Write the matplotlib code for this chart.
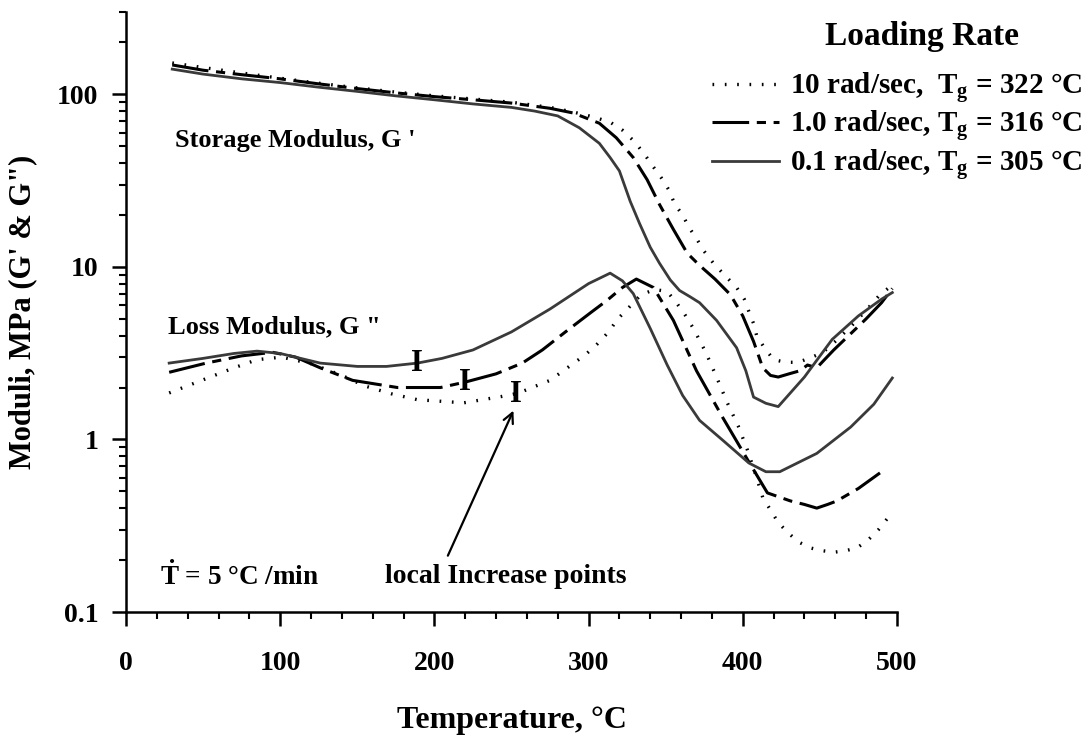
import numpy as np
import matplotlib
matplotlib.use("Agg")
import matplotlib.pyplot as plt
from matplotlib.lines import Line2D
from matplotlib.ticker import LogLocator, MultipleLocator, FixedLocator, FixedFormatter, NullFormatter

plt.rcParams['font.family'] = ['Liberation Serif', 'DejaVu Serif']
plt.rcParams['font.weight'] = 'bold'
plt.rcParams['mathtext.fontset'] = 'custom'
plt.rcParams['mathtext.rm'] = 'Liberation Serif:bold'
plt.rcParams['mathtext.bf'] = 'Liberation Serif:bold'

# storage modulus G' (MPa)
t_gp_10 = [30, 50, 75, 100, 125, 150, 175, 200, 225, 250, 275, 290, 303, 314, 322, 330, 337, 342,
           347, 352, 356, 361, 365, 370, 375, 381, 388, 396, 401, 404, 407, 409, 414, 420, 428,
           436, 445, 452, 460, 470, 480, 489, 495]
gp_10 = [152, 143, 133, 124, 116, 109, 103, 98, 94, 90, 84, 79, 74, 69, 62, 53, 44, 38,
         33, 28, 23, 20, 17, 14.6, 12.3, 10.5, 9.0, 7.6, 6.5, 5.5, 4.7, 4.0, 3.4, 2.9, 2.8,
         2.8, 3.0, 3.2, 3.7, 4.5, 5.6, 6.9, 7.6]

t_gp_1 = [30, 50, 75, 100, 125, 150, 175, 200, 225, 250, 275, 290, 307, 318, 329, 338, 346, 355,
          364, 372, 382, 392, 400, 407, 413, 418, 423, 430, 437, 442, 448, 453, 459, 470, 480,
          490, 497]
gp_1 = [148, 138, 130, 123, 115, 108, 102, 97, 93, 89, 83, 78, 68, 56, 43, 32, 23, 16.5,
        12, 10.2, 8.5, 6.9, 5.2, 3.7, 2.6, 2.35, 2.3, 2.4, 2.5, 2.7, 2.6, 2.9, 3.3, 4.1, 5.0,
        6.2, 7.5]

t_gp_01 = [30, 50, 75, 100, 125, 150, 175, 200, 225, 250, 265, 280, 294, 307, 314, 320, 327, 333,
           340, 346, 353, 359, 366, 372, 383, 396, 402, 407, 415, 423, 440, 458, 475, 490, 497]
gp_01 = [140, 131, 123, 117, 110, 104, 98, 93, 88, 84, 80, 75, 64, 52, 43, 36, 24, 17.9,
         13, 10.5, 8.4, 7.3, 6.7, 6.2, 4.9, 3.4, 2.5, 1.76, 1.62, 1.55, 2.3, 3.8, 5.2, 6.5, 7.1]

# loss modulus G'' (MPa)
t_gpp_10 = [28, 53, 70, 85, 101, 120, 140, 155, 172, 189, 219, 243, 254, 275, 298, 306, 313, 319,
            326, 334, 343, 351, 357, 363, 368, 376, 383, 390, 397, 403, 408, 413, 418, 423, 429,
            436, 444, 451, 459, 466, 474, 481, 488, 494]
gpp_10 = [1.86, 2.27, 2.6, 2.9, 3.0, 2.75, 2.35, 2.04, 1.84, 1.7, 1.63, 1.77, 1.85, 2.2, 3.1, 3.6,
          4.2, 5.0, 5.8, 6.9, 7.4, 7.2, 6.2, 5.2, 4.4, 3.2, 2.3, 1.63, 1.2, 0.87, 0.64, 0.46, 0.39,
          0.33, 0.29, 0.255, 0.235, 0.227, 0.222, 0.226, 0.235, 0.26, 0.30, 0.35]

t_gpp_1 = [28, 52, 75, 95, 110, 126, 147, 176, 204, 220, 240, 257, 270, 285, 301, 312, 322, 331,
           342, 355, 370, 387, 404, 416, 431, 440, 448, 455, 461, 475, 489]
gpp_1 = [2.45, 2.77, 3.05, 3.2, 3.0, 2.6, 2.2, 2.0, 2.0, 2.15, 2.4, 2.77, 3.3, 4.2, 5.4, 6.4, 7.6,
         8.5, 7.6, 4.9, 2.5, 1.34, 0.74, 0.49, 0.44, 0.42, 0.40, 0.42, 0.44, 0.52, 0.64]

t_gpp_01 = [28, 50, 70, 85, 100, 126, 150, 169, 189, 205, 225, 250, 275, 300, 314, 322, 329, 340,
            351, 361, 372, 387, 404, 415, 424, 448, 470, 485, 497]
gpp_01 = [2.77, 2.95, 3.15, 3.25, 3.15, 2.77, 2.65, 2.65, 2.77, 2.95, 3.3, 4.2, 5.7, 8.0, 9.2, 8.3,
          7.0, 4.4, 2.7, 1.8, 1.29, 0.99, 0.73, 0.65, 0.65, 0.83, 1.18, 1.6, 2.27]

# local increase points on G''
t_incr = [189, 220, 253]
v_incr = [2.77, 2.15, 1.81]

labels = ["10 rad/sec,  T$_\\mathrm{g}$ = 322 \u00b0C",
          "1.0 rad/sec, T$_\\mathrm{g}$ = 316 \u00b0C",
          "0.1 rad/sec, T$_\\mathrm{g}$ = 305 \u00b0C"]

dot_style = dict(color='black', lw=2.4, linestyle=(0, (0.5, 3.2)), dash_capstyle='butt')
dash_style = dict(color='black', lw=2.2, linestyle=(0, (12, 2.5, 3, 2.5)))
solid_style = dict(color='#3a3a3a', lw=2.0, linestyle='-')

fig = plt.figure(figsize=(10.88, 7.37), dpi=100)
ax = fig.add_axes([0.1158, 0.1696, 0.7086, 0.8141])

ax.plot(t_gp_10, gp_10, **dot_style)
ax.plot(t_gp_1, gp_1, **dash_style)
ax.plot(t_gp_01, gp_01, **solid_style)
ax.plot(t_gpp_10, gpp_10, **dot_style)
ax.plot(t_gpp_1, gpp_1, **dash_style)
ax.plot(t_gpp_01, gpp_01, **solid_style)

for t, v in zip(t_incr, v_incr):
    ax.text(t, v, "I", fontsize=22, ha='center', va='center', fontweight='bold')

ax.set_yscale('log')
ax.set_xlim(0, 500)
ax.set_ylim(0.1, 300)

ax.xaxis.set_major_locator(MultipleLocator(100))
ax.xaxis.set_minor_locator(MultipleLocator(20))
ax.yaxis.set_major_locator(FixedLocator([0.1, 1, 10, 100]))
ax.yaxis.set_major_formatter(FixedFormatter(["0.1", "1", "10", "100"]))
ax.yaxis.set_minor_locator(LogLocator(base=10, subs=np.arange(2, 10)))
ax.yaxis.set_minor_formatter(NullFormatter())

for s in ['top', 'right']:
    ax.spines[s].set_visible(False)
for s in ['left', 'bottom']:
    ax.spines[s].set_linewidth(1.8)

ax.tick_params(which='major', length=10, width=1.8, labelsize=20, pad=10)
ax.tick_params(which='minor', length=5, width=1.5)
ax.tick_params(axis='x', which='major', pad=18)

ax.set_xlabel("Temperature, \u00b0C", fontsize=23, fontweight='bold', labelpad=22)
ax.set_ylabel("Moduli, MPa (G' & G\")", fontsize=22, fontweight='bold', labelpad=14)

ax.text(32, 54, "Storage Modulus, G '", fontsize=19, va='center')
ax.text(27, 4.5, "Loss Modulus, G \"", fontsize=19, va='center')
ax.text(22, 0.16, "$\\dot{\\mathrm{T}}$ = 5 \u00b0C /min", fontsize=19.5, va='center')
ax.text(168, 0.16, "local Increase points", fontsize=20, va='center')
ax.annotate("", xy=(252, 1.52), xytext=(208, 0.205),
            arrowprops=dict(arrowstyle='->', lw=1.6, color='black', mutation_scale=18))

handles = [Line2D([], [], **dot_style), Line2D([], [], **dash_style), Line2D([], [], **solid_style)]
leg = ax.legend(handles, labels, loc='upper right',
                bbox_to_anchor=(1082 / 1088, 1 - 70 / 737), bbox_transform=fig.transFigure,
                frameon=False, fontsize=21, handlelength=2.3,
                handletextpad=0.35, labelspacing=0.1, borderpad=0, borderaxespad=0)
fig.text(922 / 1088, 1 - 36 / 737, "Loading Rate", fontsize=24, fontweight='bold',
         ha='center', va='center')

fig.savefig("out.png", dpi=100)
